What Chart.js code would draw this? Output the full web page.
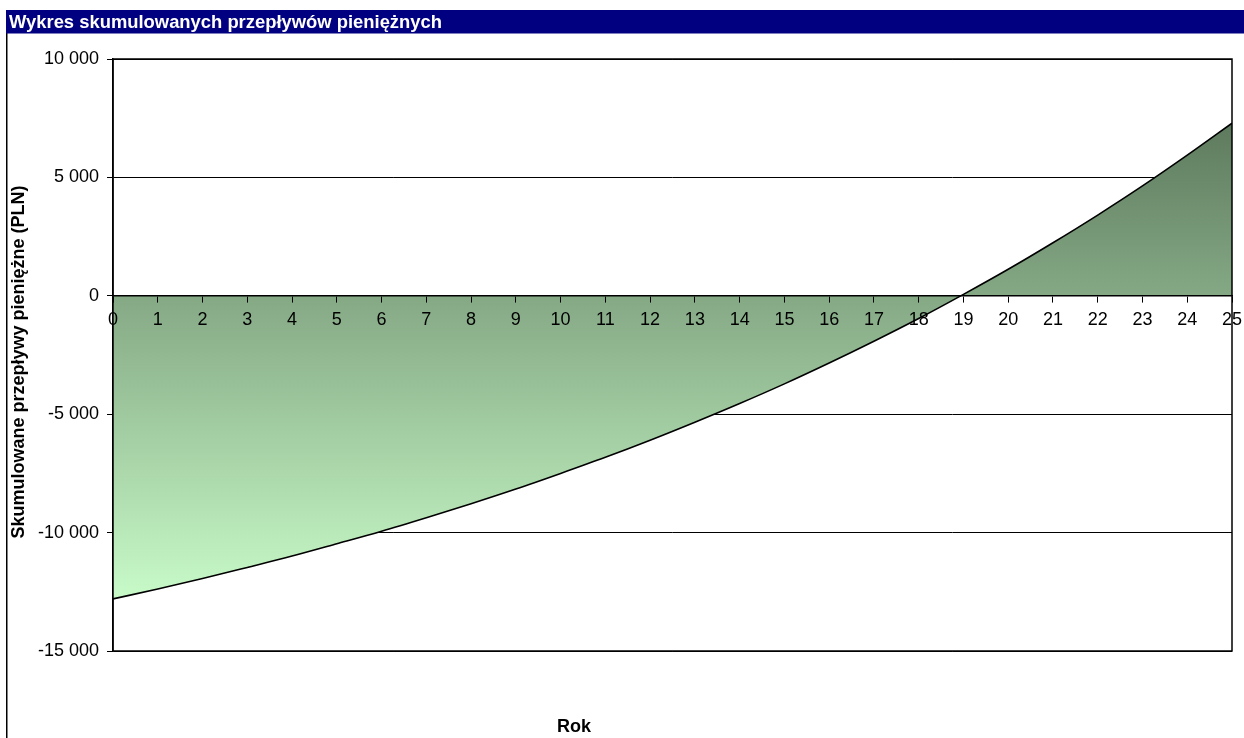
<!DOCTYPE html>
<html>
<head>
<meta charset="utf-8">
<script src="https://cdn.jsdelivr.net/npm/chart.js@4.4.1/dist/chart.umd.min.js"></script>
<style>
  html, body { margin: 0; padding: 0; background: #fff; }
  #wrap { width: 1244px; height: 738px; position: relative; }
</style>
</head>
<body>
<div id="wrap"><canvas id="c" width="1244" height="738"></canvas></div>
<script>
const chartTitle = 'Wykres skumulowanych przepływów pieniężnych';
const yAxisTitle = 'Skumulowane przepływy pieniężne (PLN)';
const xAxisTitle = 'Rok';
const years = [0,1,2,3,4,5,6,7,8,9,10,11,12,13,14,15,16,17,18,19,20,21,22,23,24,25];
const cumulativeCashFlow = [-12800,-12380,-11940,-11470,-10990,-10470,-9940,-9370,-8780,-8160,-7500,-6820,-6100,-5340,-4550,-3720,-2840,-1920,-960,60,1120,2240,3410,4640,5940,7290];
const yTicks = [-15000,-10000,-5000,0,5000,10000];

const FONT = '"Liberation Sans", Arial, sans-serif';

function fmt(v) {
  const s = Math.abs(v).toString().replace(/\B(?=(\d{3})+(?!\d))/g, ' ');
  return (v < 0 ? '-' : '') + s;
}

const framePlugin = {
  id: 'frame',
  beforeDraw(chart) {
    const ctx = chart.ctx;
    ctx.save();
    ctx.fillStyle = '#ffffff';
    ctx.fillRect(0, 0, chart.width, chart.height);
    ctx.strokeStyle = '#000';
    ctx.lineWidth = 1.5;
    ctx.beginPath();
    ctx.moveTo(6.75, 10);
    ctx.lineTo(6.75, chart.height);
    ctx.stroke();
    ctx.fillStyle = '#000080';
    ctx.fillRect(6, 10, chart.width - 6, 23.5);
    ctx.fillStyle = '#ffffff';
    ctx.font = 'bold 18.4px ' + FONT;
    ctx.textAlign = 'left';
    ctx.textBaseline = 'alphabetic';
    ctx.fillText(chartTitle, 9, 28);
    ctx.fillStyle = '#000';
    ctx.font = 'bold 18px ' + FONT;
    ctx.textAlign = 'center';
    ctx.textBaseline = 'middle';
    ctx.fillText(xAxisTitle, 574, 727);
    ctx.translate(19, 362);
    ctx.rotate(-Math.PI / 2);
    ctx.fillText(yAxisTitle, 0, 0);
    ctx.restore();
  },
  afterDatasetsDraw(chart) {
    const a = chart.chartArea;
    const ctx = chart.ctx;
    ctx.save();
    ctx.strokeStyle = '#000';
    ctx.lineWidth = 1.5;
    ctx.strokeRect(a.left, a.top, a.right - a.left, a.bottom - a.top);
    ctx.restore();
  }
};

function gradientFill(context) {
  const chart = context.chart;
  const { ctx, chartArea, scales } = chart;
  if (!chartArea || !scales.y) return '#88aa88';
  const maxV = Math.max.apply(null, cumulativeCashFlow);
  const minV = Math.min.apply(null, cumulativeCashFlow);
  const y0 = scales.y.getPixelForValue(maxV);
  const y1 = scales.y.getPixelForValue(minV);
  const g = ctx.createLinearGradient(0, y0, 0, y1);
  g.addColorStop(0, 'rgb(94,122,94)');
  g.addColorStop(1, 'rgb(200,250,200)');
  return g;
}

new Chart(document.getElementById('c'), {
  type: 'line',
  data: {
    datasets: [{
      data: years.map((x, i) => ({ x: x, y: cumulativeCashFlow[i] })),
      borderColor: '#000',
      borderWidth: 1.6,
      pointRadius: 0,
      cubicInterpolationMode: 'monotone',
      fill: 'origin',
      backgroundColor: gradientFill
    }]
  },
  options: {
    responsive: false,
    animation: false,
    layout: { padding: { left: 0, top: 59, right: 12, bottom: 87 } },
    plugins: { legend: { display: false }, tooltip: { enabled: false }, title: { display: false } },
    scales: {
      x: {
        type: 'linear',
        position: { y: 0 },
        min: 0, max: 25,
        afterBuildTicks(scale) { scale.ticks = years.map(v => ({ value: v })); },
        afterFit(scale) { scale.paddingLeft = 0; scale.paddingRight = 0; },
        ticks: {
          color: '#000',
          font: { family: FONT, size: 18 },
          padding: 7,
          maxRotation: 0,
          autoSkip: false,
          z: 2,
          callback: v => String(v)
        },
        grid: { drawOnChartArea: false, drawTicks: true, tickLength: 6, color: '#000', lineWidth: 1, z: 2 },
        border: { display: true, color: '#000', width: 1.6, z: 2 }
      },
      y: {
        type: 'linear',
        position: 'left',
        min: -15000, max: 10000,
        afterFit(scale) { scale.width = 113; scale.paddingTop = 0; scale.paddingBottom = 0; },
        afterBuildTicks(scale) { scale.ticks = yTicks.map(v => ({ value: v })); },
        ticks: {
          color: '#000',
          font: { family: FONT, size: 18 },
          padding: 8,
          callback: v => fmt(v)
        },
        grid: { color: '#000', lineWidth: 1, drawTicks: true, tickLength: 6 },
        border: { display: true, color: '#000', width: 1.5 }
      }
    }
  },
  plugins: [framePlugin]
});
</script>
</body>
</html>
